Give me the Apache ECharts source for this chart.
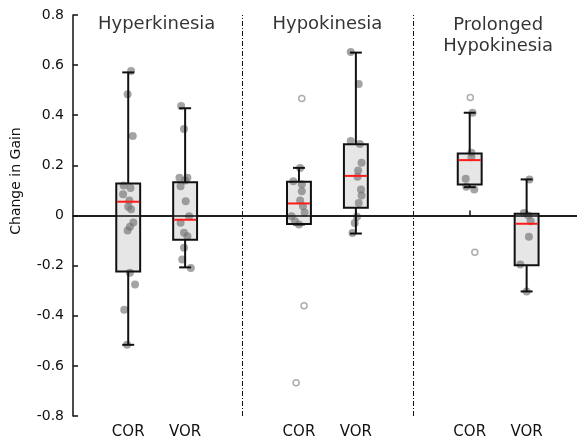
<!DOCTYPE html>
<html>
<head>
<meta charset="utf-8">
<script src="https://cdn.jsdelivr.net/npm/echarts@6/dist/echarts.min.js"></script>
<style>
  html, body { margin: 0; padding: 0; background: #fff; }
  #chart { width: 577px; height: 443px; }
</style>
</head>
<body>
<div id="chart"></div>
<script>
// categories and their x positions (3 and 6 are the group separators)
const categories = ['COR', 'VOR', 'COR', 'VOR', 'COR', 'VOR'];
const positions = [1, 2, 4, 5, 7, 8];
const separators = [3, 6];
const groupNames = ['Hyperkinesia', 'Hypokinesia', 'Prolonged\nHypokinesia'];

// [lower whisker, q1, median, q3, upper whisker]
const boxStats = [
  [-0.516, -0.223, 0.055, 0.128, 0.571],
  [-0.207, -0.097, -0.017, 0.133, 0.428],
  [-0.036, -0.034, 0.048, 0.135, 0.19],
  [-0.072, 0.031, 0.158, 0.284, 0.65],
  [0.113, 0.124, 0.221, 0.247, 0.41],
  [-0.303, -0.199, -0.033, 0.007, 0.144]
];

// individual subjects: [jitter, change in gain]
const subjects = [
  [[0.05, 0.577], [-0.01, 0.484], [0.08, 0.317], [-0.08, 0.12], [0.04, 0.11], [-0.09, 0.085],
   [0.02, 0.06], [0, 0.035], [0.05, 0.025], [0.09, -0.028], [0.03, -0.045], [-0.01, -0.06],
   [0.03, -0.228], [0.12, -0.275], [-0.07, -0.376], [-0.02, -0.516]],
  [[-0.07, 0.437], [-0.02, 0.345], [-0.1, 0.151], [0.04, 0.151], [0, 0.14], [-0.08, 0.117],
   [0.01, 0.057], [0.07, -0.003], [-0.08, -0.029], [-0.02, -0.069], [0.04, -0.083],
   [-0.02, -0.129], [-0.05, -0.176], [0.1, -0.209]],
  [[0.02, 0.19], [-0.1, 0.137], [0.05, 0.125], [0.05, 0.097], [0.02, 0.06], [0.07, 0.037],
   [0.1, 0.012], [-0.13, -0.003], [-0.07, -0.023], [0, -0.036]],
  [[-0.09, 0.652], [0.05, 0.525], [-0.09, 0.297], [0.07, 0.285], [0.1, 0.21], [0.04, 0.18],
   [0.03, 0.155], [0.09, 0.104], [0.1, 0.08], [0.05, 0.05], [0.02, -0.005], [-0.02, -0.03],
   [-0.06, -0.07]],
  [[0.05, 0.41], [0.03, 0.25], [0.03, 0.232], [-0.07, 0.147], [-0.06, 0.115], [0.08, 0.104]],
  [[0.05, 0.144], [-0.05, 0.01], [0.03, 0], [0.07, -0.023], [0.04, -0.085], [-0.11, -0.196],
   [0, -0.303]]
];

// outliers (open circles): [jitter, change in gain]
const outliers = [
  [],
  [],
  [[0.05, 0.467], [0.09, -0.36], [-0.05, -0.667]],
  [],
  [[0.01, 0.471], [0.09, -0.147]],
  []
];

const FONT = '"DejaVu Sans", "Liberation Sans", sans-serif';
const chart = echarts.init(document.getElementById('chart'), null, { renderer: 'canvas' });

const boxData = boxStats.map((s, i) => [positions[i]].concat(s));
const pointData = [];
subjects.forEach((list, i) => list.forEach(p => pointData.push([positions[i] + p[0], p[1]])));
const outlierData = [];
outliers.forEach((list, i) => list.forEach(p => outlierData.push([positions[i] + p[0], p[1]])));
const titleData = groupNames.map((n, g) => ({
  value: [(positions[g * 2] + positions[g * 2 + 1]) / 2, n.indexOf('\n') >= 0 ? 0.718 : 0.762],
  name: n
}));

const BOX_W = 0.42;
const CAP_W = 0.21;

function renderFill(params, api) {
  const x = api.value(0);
  const w = api.size([BOX_W, 0])[0];
  const top = api.coord([x, api.value(4)]);
  const bot = api.coord([x, api.value(2)]);
  return {
    type: 'rect',
    shape: { x: top[0] - w / 2, y: top[1], width: w, height: bot[1] - top[1] },
    style: { fill: '#e6e6e6' }
  };
}

function renderLines(params, api) {
  const x = api.value(0);
  const w = api.size([BOX_W, 0])[0];
  const cw = api.size([CAP_W, 0])[0];
  const lo = api.coord([x, api.value(1)]);
  const q1 = api.coord([x, api.value(2)]);
  const med = api.coord([x, api.value(3)]);
  const q3 = api.coord([x, api.value(4)]);
  const hi = api.coord([x, api.value(5)]);
  const cx = lo[0];
  const black = { stroke: '#111', lineWidth: 2 };
  return {
    type: 'group',
    children: [
      { type: 'line', shape: { x1: cx, y1: hi[1], x2: cx, y2: q3[1] }, style: black },
      { type: 'line', shape: { x1: cx, y1: q1[1], x2: cx, y2: lo[1] }, style: black },
      { type: 'line', shape: { x1: cx - cw / 2, y1: hi[1], x2: cx + cw / 2, y2: hi[1] }, style: black },
      { type: 'line', shape: { x1: cx - cw / 2, y1: lo[1], x2: cx + cw / 2, y2: lo[1] }, style: black },
      {
        type: 'rect',
        shape: { x: cx - w / 2, y: q3[1], width: w, height: q1[1] - q3[1] },
        style: { fill: null, stroke: '#111', lineWidth: 2 }
      },
      { type: 'line', shape: { x1: cx - w / 2 + 1, y1: med[1], x2: cx + w / 2 - 1, y2: med[1] },
        style: { stroke: '#ff1a1a', lineWidth: 2 } }
    ]
  };
}

chart.setOption({
  backgroundColor: '#fff',
  animation: false,
  grid: { left: 73, right: 0, top: 15, bottom: 27 },
  xAxis: {
    type: 'value',
    min: 0.03,
    max: 8.885,
    splitLine: { show: false },
    axisLine: { lineStyle: { color: '#111', width: 1.5 } },
    axisTick: { inside: true, length: 5, customValues: positions, lineStyle: { color: '#111', width: 1.5 } },
    axisLabel: {
      customValues: positions,
      formatter: v => categories[positions.indexOf(v)] || '',
      color: '#111',
      fontFamily: FONT,
      fontSize: 15,
      margin: 9
    }
  },
  yAxis: {
    type: 'value',
    min: -0.8,
    max: 0.8,
    interval: 0.2,
    splitLine: { show: false },
    axisLine: { lineStyle: { color: '#111', width: 1.5 } },
    axisTick: { inside: true, length: 5, lineStyle: { color: '#111', width: 1.5 } },
    axisLabel: {
      color: '#111',
      fontFamily: FONT,
      fontSize: 14,
      margin: 9,
      formatter: v => (Math.abs(v) < 1e-9 ? '0' : v.toFixed(1))
    }
  },
  graphic: [{
    type: 'text',
    x: 16,
    y: 181,
    rotation: Math.PI / 2,
    style: {
      text: 'Change in Gain',
      align: 'center',
      verticalAlign: 'middle',
      fill: '#111',
      font: '14px ' + FONT
    }
  }],
  series: [
    {
      name: 'boxFill',
      type: 'custom',
      z: 1,
      renderItem: renderFill,
      data: boxData,
      markLine: {
        silent: true,
        symbol: 'none',
        label: { show: false },
        data: [{ yAxis: 0, lineStyle: { color: '#111', width: 1.5, type: 'solid' } }]
          .concat(separators.map(s => ({
            xAxis: s,
            lineStyle: { color: '#111', width: 1, type: [5, 2, 1, 2] }
          })))
      }
    },
    {
      name: 'subjects',
      type: 'scatter',
      z: 2,
      symbolSize: 8,
      itemStyle: { color: 'rgba(112,112,112,0.8)' },
      data: pointData
    },
    {
      name: 'outliers',
      type: 'scatter',
      z: 2,
      symbol: 'circle',
      symbolSize: 6,
      itemStyle: { color: '#fff', borderColor: '#999', borderWidth: 1.5 },
      data: outlierData
    },
    {
      name: 'boxLines',
      type: 'custom',
      z: 3,
      renderItem: renderLines,
      data: boxData
    },
    {
      name: 'titles',
      type: 'scatter',
      z: 4,
      symbolSize: 0,
      silent: true,
      label: {
        show: true,
        position: 'inside',
        formatter: p => p.name,
        color: '#000',
        fontFamily: FONT,
        fontSize: 18,
        lineHeight: 21,
        align: 'center',
        verticalAlign: 'middle'
      },
      data: titleData
    }
  ]
});
</script>
</body>
</html>
